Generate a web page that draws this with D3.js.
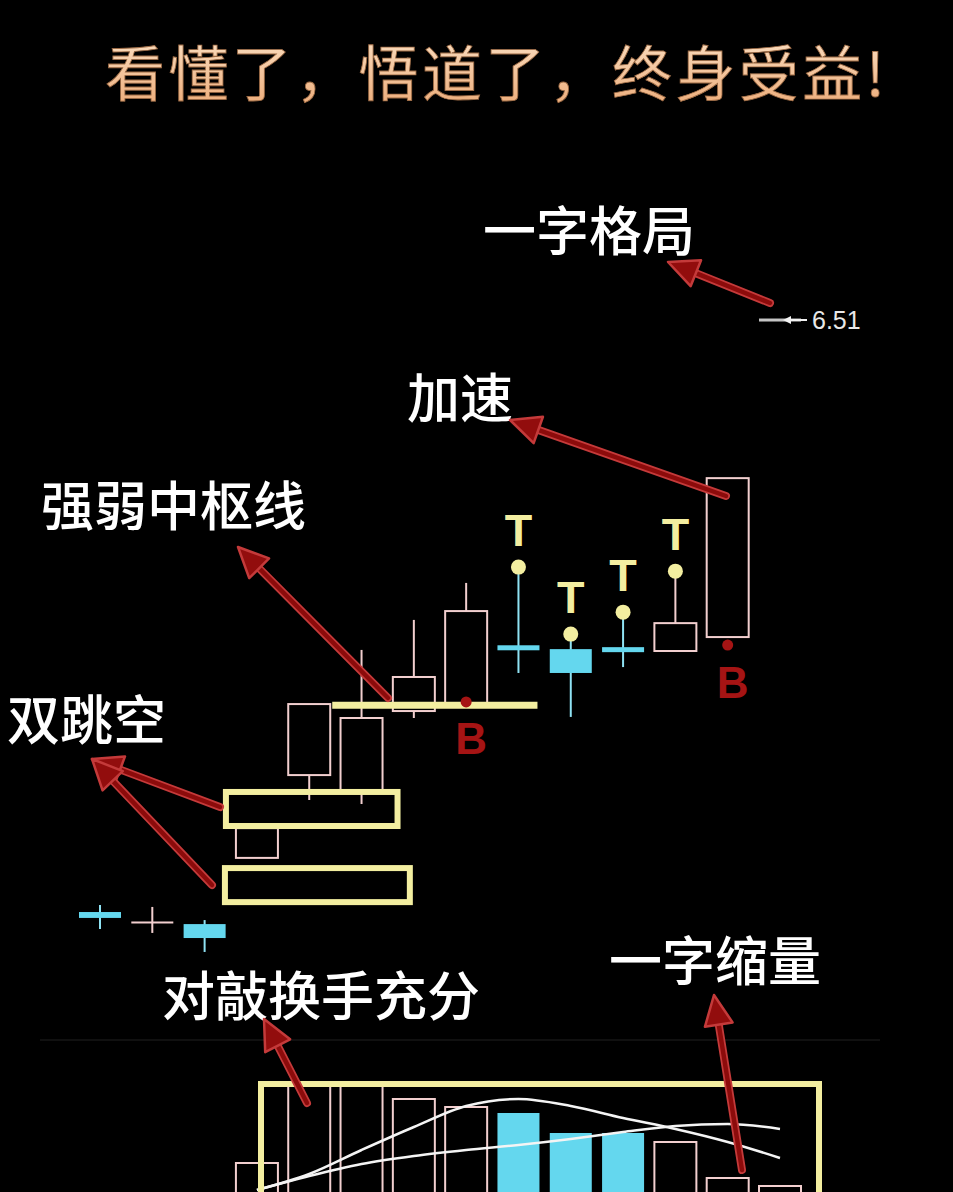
<!DOCTYPE html>
<html>
<head>
<meta charset="utf-8">
<title>K线</title>
<script src="https://d3js.org/d3.v7.min.js"></script>
<style>
  html, body { margin: 0; padding: 0; background: #000; }
  svg { display: block; }
</style>
</head>
<body>
<div id="chart"></div>
<script>
// 14 trading days, prices (last one is the 6.51 limit-up line)
const days   = d3.range(1, 15);
const open   = [4.301, 4.262, 4.256, 4.503, 4.812, 4.756, 5.051, 5.081, 5.287, 5.282, 5.280, 5.275, 5.327, 6.51];
const close  = [4.279, 4.265, 4.204, 4.614, 5.077, 5.025, 5.178, 5.424, 5.285, 5.193, 5.278, 5.379, 5.920, 6.51];
const high   = [4.327, 4.320, 4.271, 4.614, 5.077, 5.279, 5.391, 5.529, 5.588, 5.338, 5.420, 5.573, 5.920, 6.51];
const low    = [4.238, 4.223, 4.152, 4.503, 4.719, 4.704, 5.025, 5.081, 5.193, 5.029, 5.215, 5.275, 5.327, 6.51];
const volume = [45, 50, 40, 97, 175, 175, 161, 153, 147, 127, 127, 118, 82, 74];
const maFast = [null, null, null, 70, 86, 110, 133, 154, 161, 154, 142, 131, 118, 102];
const maSlow = [null, null, null, 70, 84, 96, 104, 110, 115, 121, 128, 134, 136, 131];

const tDays  = [9, 10, 11, 12];
const bDays  = [8, 13];
const bPrice = [5.085, 5.297];
const midPrice  = 5.073;
const gapTop    = [4.749, 4.465];
const gapBottom = [4.622, 4.338];
const lastLabel = "6.51";

const title = "看懂了，悟道了，终身受益!";
const notes = ["一字格局", "加速", "强弱中枢线", "双跳空", "对敲换手充分", "一字缩量"];

const W = 953, H = 1192;
const pink = "#f2cfcf", cyan = "#64d7ee", yellow = "#f3eea0", darkRed = "#a51414";
const cjk = "'Noto Sans CJK SC', 'Noto Sans', sans-serif";

const svg = d3.select("#chart").append("svg")
    .attr("width", W).attr("height", H)
    .style("background", "#000");

const defs = svg.append("defs");
const grad = defs.append("linearGradient").attr("id", "titleGrad")
    .attr("x1", 0).attr("y1", 0).attr("x2", 0).attr("y2", 1);
grad.append("stop").attr("offset", "0%").attr("stop-color", "#fde6cc");
grad.append("stop").attr("offset", "100%").attr("stop-color", "#eba874");

let x = d3.scalePoint().domain(days).range([100, 780]);
let y = d3.scaleLinear().domain([4.0, 7.0]).range([992.7, 188.7]);
let v = d3.scaleLinear().domain([0, 200]).range([1260, 1060]);
const half = 21;

// title
svg.append("text")
    .attr("x", 105).attr("y", 69)
    .attr("dominant-baseline", "central")
    .attr("font-family", cjk)
    .attr("font-size", 60)
    .attr("textLength", 780)
    .attr("lengthAdjust", "spacing")
    .attr("fill", "url(#titleGrad)")
    .attr("stroke", "#9c6a44").attr("stroke-width", 0.8)
    .text(title);

// faint separator above the volume panel
svg.append("line")
    .attr("x1", 40).attr("x2", 880).attr("y1", 1040).attr("y2", 1040)
    .attr("stroke", "#101010").attr("stroke-width", 2);

// ---------- candles ----------
const candles = days.map((d, i) => ({
    d: d, o: open[i], c: close[i], h: high[i], l: low[i],
    up: close[i] >= open[i], doji: Math.abs(close[i] - open[i]) < 0.005
}));

function colorOf(k) {
    if (k.d === 14) return "#c4c4c4";
    return k.up ? pink : cyan;
}

let g = svg.append("g");

g.selectAll("line.wick")
    .data(candles.filter(k => k.h > k.l))
    .enter().append("line")
    .attr("x1", k => x(k.d)).attr("x2", k => x(k.d))
    .attr("y1", k => y(k.h)).attr("y2", k => y(k.l))
    .attr("stroke", k => k.up ? pink : "#8fe2f3")
    .attr("stroke-width", 2);

g.selectAll("rect.body")
    .data(candles)
    .enter().append("rect")
    .attr("x", k => x(k.d) - half)
    .attr("width", half * 2)
    .attr("y", k => {
        if (k.d === 14) return y(k.o) - 1.5;
        if (k.doji) return y(k.o) - (k.up ? 1 : 2.5);
        return y(Math.max(k.o, k.c));
    })
    .attr("height", k => {
        if (k.d === 14) return 3;
        if (k.doji) return k.up ? 2 : 5;
        return Math.abs(y(k.o) - y(k.c));
    })
    .attr("fill", k => (k.up && !k.doji) ? "#000" : colorOf(k))
    .attr("stroke", k => (k.up && !k.doji) ? pink : "none")
    .attr("stroke-width", 2);

// gap boxes (双跳空)
const boxX = [[x(4) - 31, x(6) + 36], [x(4) - 32, x(7) - 4]];
g.selectAll("rect.gap")
    .data(gapTop)
    .enter().append("rect")
    .attr("x", (p, i) => boxX[i][0])
    .attr("width", (p, i) => boxX[i][1] - boxX[i][0])
    .attr("y", p => y(p))
    .attr("height", (p, i) => y(gapBottom[i]) - y(p))
    .attr("fill", "none")
    .attr("stroke", yellow)
    .attr("stroke-width", 6);

// mid line (强弱中枢线)
g.append("line")
    .attr("x1", x(5) + 23).attr("x2", x(9) + 19)
    .attr("y1", y(midPrice)).attr("y2", y(midPrice))
    .attr("stroke", yellow).attr("stroke-width", 7);

// T markers
g.selectAll("circle.t")
    .data(tDays)
    .enter().append("circle")
    .attr("cx", d => x(d)).attr("cy", d => y(high[d - 1]))
    .attr("r", 7.5).attr("fill", yellow);

g.selectAll("text.t")
    .data(tDays)
    .enter().append("text")
    .attr("x", d => x(d)).attr("y", d => y(high[d - 1]) - 37)
    .attr("text-anchor", "middle").attr("dominant-baseline", "central")
    .attr("font-family", "'Liberation Sans', Arial, sans-serif")
    .attr("font-weight", "bold").attr("font-size", 45)
    .attr("fill", yellow)
    .text("T");

// B markers
g.selectAll("circle.b")
    .data(bDays)
    .enter().append("circle")
    .attr("cx", d => x(d)).attr("cy", (d, i) => y(bPrice[i]))
    .attr("r", 5.5).attr("fill", darkRed);

g.selectAll("text.b")
    .data(bDays)
    .enter().append("text")
    .attr("x", d => x(d) + 5).attr("y", (d, i) => y(bPrice[i]) + 37)
    .attr("text-anchor", "middle").attr("dominant-baseline", "central")
    .attr("font-family", "'Liberation Sans', Arial, sans-serif")
    .attr("font-weight", "bold").attr("font-size", 44)
    .attr("fill", darkRed)
    .text("B");

// 6.51 price tag
let lastX = x(14), lastY = y(close[13]);
g.append("line")
    .attr("x1", lastX + 5).attr("x2", lastX + 27)
    .attr("y1", lastY).attr("y2", lastY)
    .attr("stroke", "#f2f2f2").attr("stroke-width", 2);
g.append("path")
    .attr("d", `M${lastX + 3},${lastY} l8,-4 l0,8 z`)
    .attr("fill", "#f2f2f2");
g.append("text")
    .attr("x", lastX + 32).attr("y", lastY)
    .attr("dominant-baseline", "central")
    .attr("font-family", "'Liberation Sans', Arial, sans-serif")
    .attr("font-size", 25)
    .attr("fill", "#e8e8e8")
    .text(lastLabel);

// ---------- volume ----------
let vg = svg.append("g");

vg.selectAll("rect.vol")
    .data(candles)
    .enter().append("rect")
    .attr("x", k => x(k.d) - half)
    .attr("width", half * 2)
    .attr("y", (k, i) => v(volume[i]))
    .attr("height", (k, i) => v(0) - v(volume[i]))
    .attr("fill", k => k.up ? "none" : cyan)
    .attr("stroke", k => k.up ? pink : "none")
    .attr("stroke-width", 2);

let maLine = d3.line()
    .defined(dv => dv[1] !== null)
    .x(dv => x(dv[0]))
    .y(dv => v(dv[1]))
    .curve(d3.curveMonotoneX);

[maFast, maSlow].forEach(ma => {
    vg.append("path")
        .datum(days.map((d, i) => [d, ma[i]]))
        .attr("d", maLine)
        .attr("fill", "none")
        .attr("stroke", "#f4f4f4")
        .attr("stroke-width", 2.5);
});

vg.append("rect")
    .attr("x", 261).attr("y", 1084)
    .attr("width", 558).attr("height", 140)
    .attr("fill", "none")
    .attr("stroke", yellow).attr("stroke-width", 6);

// ---------- annotations ----------
const labels = [
    {t: notes[0], x: 483, y: 228},
    {t: notes[1], x: 407, y: 395},
    {t: notes[2], x: 41,  y: 503},
    {t: notes[3], x: 7,   y: 717},
    {t: notes[4], x: 162, y: 993},
    {t: notes[5], x: 609, y: 958}
];
svg.selectAll("text.note")
    .data(labels)
    .enter().append("text")
    .attr("x", d => d.x).attr("y", d => d.y)
    .attr("dominant-baseline", "central")
    .attr("font-family", cjk)
    .attr("font-weight", 500)
    .attr("font-size", 53)
    .attr("fill", "#ffffff")
    .text(d => d.t);

const arrows = [
    {from: [770, 303], to: [668, 262]},
    {from: [726, 496], to: [510, 420]},
    {from: [388, 698], to: [238, 547]},
    {from: [220, 807], to: [92, 759]},
    {from: [212, 885], to: [92, 759]},
    {from: [307, 1103], to: [264, 1019]},
    {from: [742, 1170], to: [714, 995]}
];

let ag = svg.append("g");
arrows.forEach(a => {
    let dx = a.to[0] - a.from[0], dy = a.to[1] - a.from[1];
    let len = Math.sqrt(dx * dx + dy * dy);
    let ux = dx / len, uy = dy / len;
    let nx = -uy, ny = ux;
    let L = 30, Wd = 14;
    let bx = a.to[0] - L * ux, by = a.to[1] - L * uy;
    ag.append("line")
        .attr("x1", a.from[0]).attr("y1", a.from[1])
        .attr("x2", bx + 4 * ux).attr("y2", by + 4 * uy)
        .attr("stroke", "#c43a3a").attr("stroke-width", 8)
        .attr("stroke-linecap", "round");
    ag.append("line")
        .attr("x1", a.from[0]).attr("y1", a.from[1])
        .attr("x2", bx + 4 * ux).attr("y2", by + 4 * uy)
        .attr("stroke", "#8c0b0b").attr("stroke-width", 4.5)
        .attr("stroke-linecap", "round");
    ag.append("path")
        .attr("d", `M${a.to[0]},${a.to[1]} L${bx + Wd * nx},${by + Wd * ny} L${bx - Wd * nx},${by - Wd * ny} Z`)
        .attr("fill", "#920d0d")
        .attr("stroke", "#c43a3a").attr("stroke-width", 2.5)
        .attr("stroke-linejoin", "round");
});
</script>
</body>
</html>
